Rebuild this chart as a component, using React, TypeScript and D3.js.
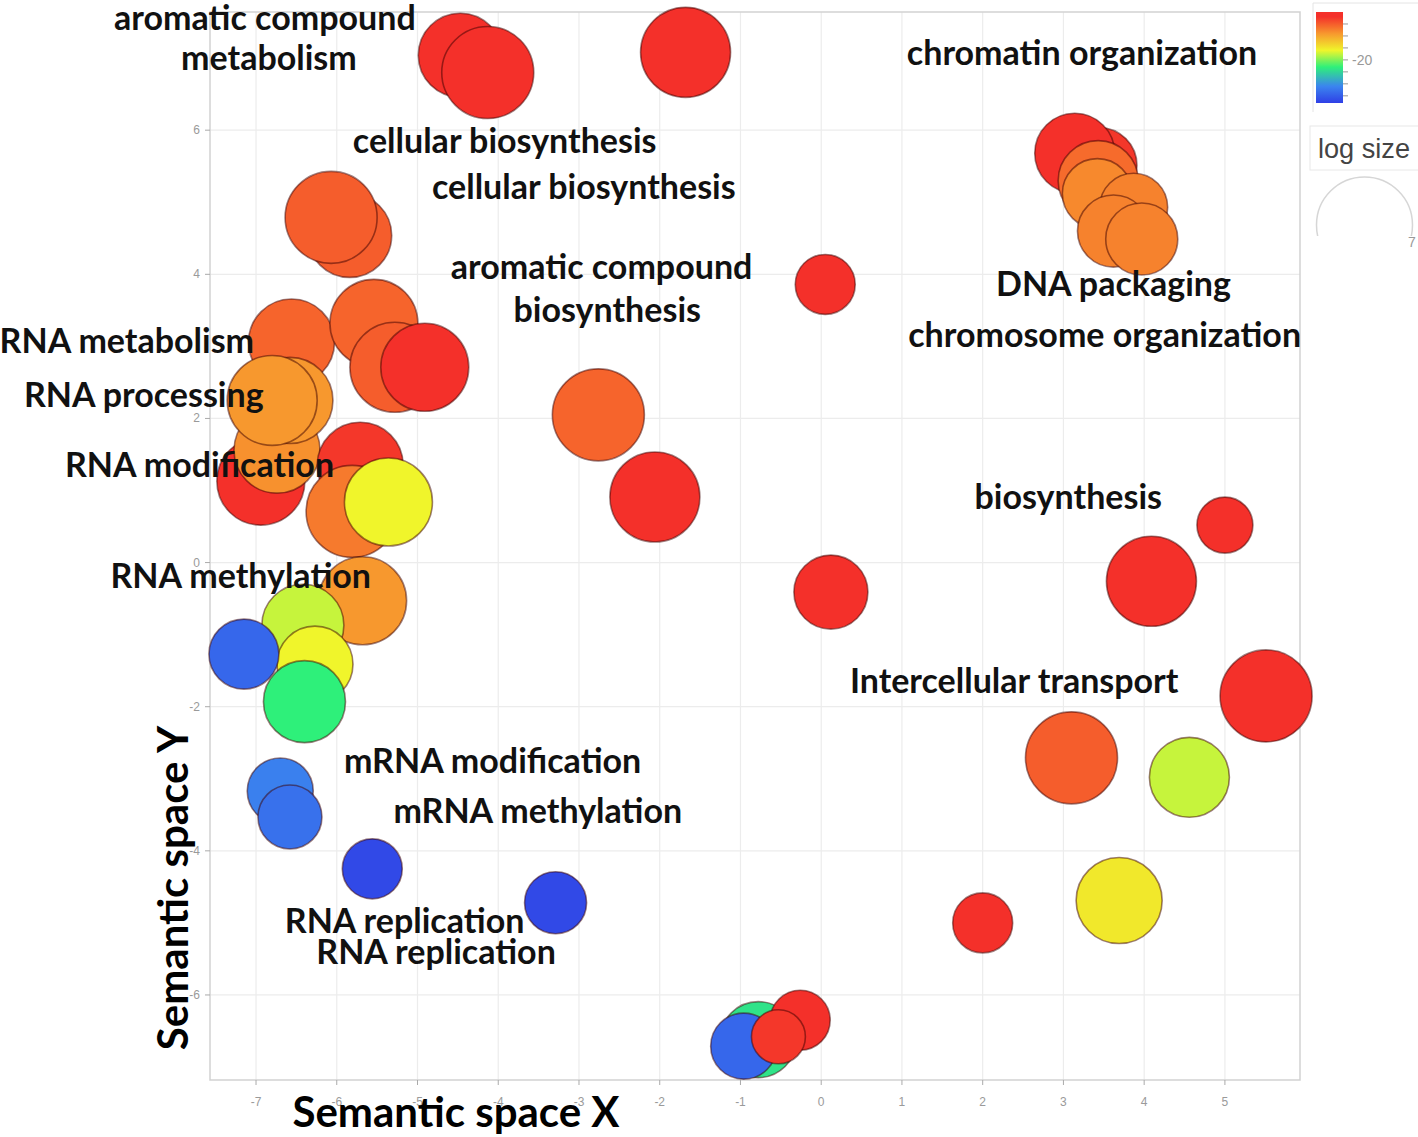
import React from 'react';
import * as d3 from 'd3';

const W = 1418;
const H = 1137;

const X_TICKS = [-7, -6, -5, -4, -3, -2, -1, 0, 1, 2, 3, 4, 5];
const Y_TICKS = [-6, -4, -2, 0, 2, 4, 6];

// bubbles, in drawing order
const plotX = [-4.47, -4.13, -1.68, -5.84, -6.07, 0.05, -6.94, -6.74, -6.56, -6.58, -6.80, -5.54, -5.28, -4.91, -5.71, -5.81, -5.36, -5.68, -6.42, -6.27, -6.40, -7.15, -6.70, -6.58, -5.56, -3.29, -2.76, -2.06, 0.12, 5.00, 4.09, 5.51, 3.10, 4.56, 3.69, 2.00, -0.78, -0.96, -0.26, -0.53, 3.44, 3.14, 3.43, 3.42, 3.87, 3.62, 3.97];
const plotY = [7.04, 6.80, 7.08, 4.54, 4.79, 3.86, 1.13, 1.56, 3.06, 2.25, 2.25, 3.32, 2.71, 2.71, 1.35, 0.71, 0.84, -0.53, -0.87, -1.41, -1.93, -1.27, -3.17, -3.53, -4.25, -4.72, 2.05, 0.91, -0.41, 0.52, -0.26, -1.85, -2.71, -2.98, -4.69, -5.00, -6.62, -6.71, -6.35, -6.58, 5.51, 5.68, 5.30, 5.12, 4.93, 4.60, 4.49];
const logSize = [5.36, 6.43, 6.15, 5.36, 6.43, 2.73, 5.88, 5.62, 5.62, 5.62, 6.15, 5.88, 6.15, 5.88, 5.62, 6.43, 5.88, 5.88, 5.11, 4.39, 5.11, 3.72, 3.31, 3.11, 2.73, 2.92, 6.43, 6.15, 4.16, 2.38, 6.15, 6.43, 6.43, 4.86, 5.62, 2.73, 4.39, 3.31, 2.73, 2.21, 4.39, 4.86, 4.86, 3.72, 3.51, 3.94, 3.94];
const log10P = [-2, -2, -2, -5, -5, -2, -2, -8.5, -5.5, -9, -9, -5.5, -5, -2, -2.5, -7, -16, -9, -17.5, -16, -23, -34, -31.5, -33, -37, -37, -5.5, -2, -2, -2, -2, -2, -5, -17.5, -15, -2, -24, -34, -2, -2.5, -2.5, -2, -6, -8, -7.5, -7.5, -7.5];

// annotations
const labelText = [
  'aromatic compound', 'metabolism', 'chromatin organization', 'cellular biosynthesis',
  'cellular biosynthesis', 'aromatic compound', 'biosynthesis', 'DNA packaging',
  'chromosome organization', 'RNA metabolism', 'RNA processing', 'RNA modification',
  'biosynthesis', 'RNA methylation', 'Intercellular transport', 'mRNA modification',
  'mRNA methylation', 'RNA replication', 'RNA replication',
];
const labelX = [-6.89, -6.84, 3.23, -3.92, -2.94, -2.72, -2.65, 3.62, 3.51, -8.60, -8.39, -7.70, 3.06, -7.19, 2.39, -4.07, -3.51, -5.16, -4.77];
const labelY = [7.39, 6.83, 6.90, 5.68, 5.05, 3.93, 3.34, 3.70, 2.99, 2.91, 2.16, 1.19, 0.74, -0.35, -1.81, -2.92, -3.61, -5.14, -5.57];

const COLOR_DOMAIN = [-38, -31, -23, -16, -9, -2];
const COLOR_RANGE = ['#2f3fe6', '#3b85ef', '#2ef07a', '#f0f52b', '#f7982e', '#f4302a'];
const COLORBAR_TICKS = [-35, -30, -25, -20, -15, -10, -5];
const COLORBAR_LABELS = [-20];
const SIZE_BREAK = 7;

export default function App() {
  const x = d3.scaleLinear().domain([-7.57, 5.93]).range([210, 1300]);
  const y = d3.scaleLinear().domain([7.64, -7.18]).range([12, 1080]);
  const r = d3.scaleSqrt().domain([0, 7]).range([0, 48]);
  const color = d3.scaleLinear<string>().domain(COLOR_DOMAIN).range(COLOR_RANGE).clamp(true);

  const cbY = d3.scaleLinear().domain([0, -38]).range([12, 103]);
  const gradStops = d3.range(0, 39, 1).map((v) => ({ off: (v / 38) * 100, c: color(-v) }));

  const bubbles = plotX.map((px, i) => ({ x: px, y: plotY[i], s: logSize[i], p: log10P[i] }));
  const labels = labelText.map((t, i) => ({ t, x: labelX[i], y: labelY[i] }));

  const [x0, x1] = x.range();
  const [y0, y1] = y.range();

  return (
    <svg width={W} height={H} style={{ position: 'absolute', left: 0, top: 0, background: '#fff' }}>
      <defs>
        <linearGradient id="cb" x1="0" y1="0" x2="0" y2="1">
          {gradStops.map((s, i) => (
            <stop key={i} offset={`${s.off}%`} stopColor={s.c} />
          ))}
        </linearGradient>
        <clipPath id="sizeClip">
          <rect x={1300} y={170} width={118} height={66} />
        </clipPath>
      </defs>
      <rect x={0} y={0} width={W} height={H} fill="#fff" />
      {/* grid */}
      {X_TICKS.map((t) => (
        <line key={'gx' + t} x1={x(t)} x2={x(t)} y1={y0} y2={y1} stroke="#ececec" strokeWidth={1.2} />
      ))}
      {Y_TICKS.map((t) => (
        <line key={'gy' + t} x1={x0} x2={x1} y1={y(t)} y2={y(t)} stroke="#ececec" strokeWidth={1.2} />
      ))}
      <rect x={x0} y={y0} width={x1 - x0} height={y1 - y0} fill="none" stroke="#d2d2d2" strokeWidth={1.5} />
      {/* ticks */}
      {X_TICKS.map((t) => (
        <g key={'tx' + t}>
          <line x1={x(t)} x2={x(t)} y1={y1} y2={y1 + 5} stroke="#aaa" />
          <text x={x(t)} y={y1 + 26} textAnchor="middle" fontFamily="Liberation Sans, Arial, sans-serif" fontSize={12} fill="#9a9a9a">
            {t}
          </text>
        </g>
      ))}
      {Y_TICKS.map((t) => (
        <g key={'ty' + t}>
          <line x1={x0 - 5} x2={x0} y1={y(t)} y2={y(t)} stroke="#aaa" />
          <text x={x0 - 10} y={y(t) + 4} textAnchor="end" fontFamily="Liberation Sans, Arial, sans-serif" fontSize={12} fill="#9a9a9a">
            {t}
          </text>
        </g>
      ))}
      {/* bubbles */}
      {bubbles.map((b, i) => (
        <circle
          key={'b' + i}
          cx={x(b.x)}
          cy={y(b.y)}
          r={r(b.s)}
          fill={color(b.p)}
          stroke="rgba(60,0,0,0.5)"
          strokeWidth={1.6}
        />
      ))}
      {/* labels */}
      {labels.map((l, i) => (
        <text
          key={'l' + i}
          x={x(l.x)}
          y={y(l.y)}
          textAnchor="middle"
          fontFamily="Lato, 'Open Sans', sans-serif"
          fontWeight={700}
          fontSize={34}
          fill="#111"
        >
          {l.t}
        </text>
      ))}
      {/* axis titles */}
      <text x={456} y={1127} textAnchor="middle" fontFamily="Lato, sans-serif" fontWeight={700} fontSize={42} fill="#000">
        Semantic space X
      </text>
      <text
        transform="translate(188,888) rotate(-90)"
        textAnchor="middle"
        fontFamily="Lato, sans-serif"
        fontWeight={700}
        fontSize={42}
        fill="#000"
      >
        Semantic space Y
      </text>
      {/* colour legend */}
      <line x1={1313} x2={1313} y1={3} y2={112} stroke="#e4e4e4" />
      <line x1={1313} x2={1418} y1={3} y2={3} stroke="#e4e4e4" />
      <rect x={1316} y={cbY(0)} width={27} height={cbY(-38) - cbY(0)} fill="url(#cb)" />
      {COLORBAR_TICKS.map((t) => (
        <line key={'cbt' + t} x1={1343} x2={1348} y1={cbY(t)} y2={cbY(t)} stroke="#999" strokeWidth={1} />
      ))}
      {COLORBAR_LABELS.map((t) => (
        <text key={'cbl' + t} x={1352} y={cbY(t) + 5} fontFamily="Liberation Sans, Arial, sans-serif" fontSize={14} fill="#999">
          {t}
        </text>
      ))}
      {/* size legend */}
      <rect x={1310} y={126} width={110} height={44} fill="none" stroke="#e8e8e8" />
      <text x={1318} y={158} fontFamily="Liberation Sans, Arial, sans-serif" fontSize={28} fill="#444" textLength={92} lengthAdjust="spacingAndGlyphs">
        log size
      </text>
      <g clipPath="url(#sizeClip)">
        <circle cx={1364.5} cy={177 + r(SIZE_BREAK)} r={r(SIZE_BREAK)} fill="none" stroke="#d6d6d6" strokeWidth={1.5} />
      </g>
      <text x={1408} y={247} fontFamily="Liberation Sans, Arial, sans-serif" fontSize={14} fill="#999">
        {SIZE_BREAK}
      </text>
    </svg>
  );
}
